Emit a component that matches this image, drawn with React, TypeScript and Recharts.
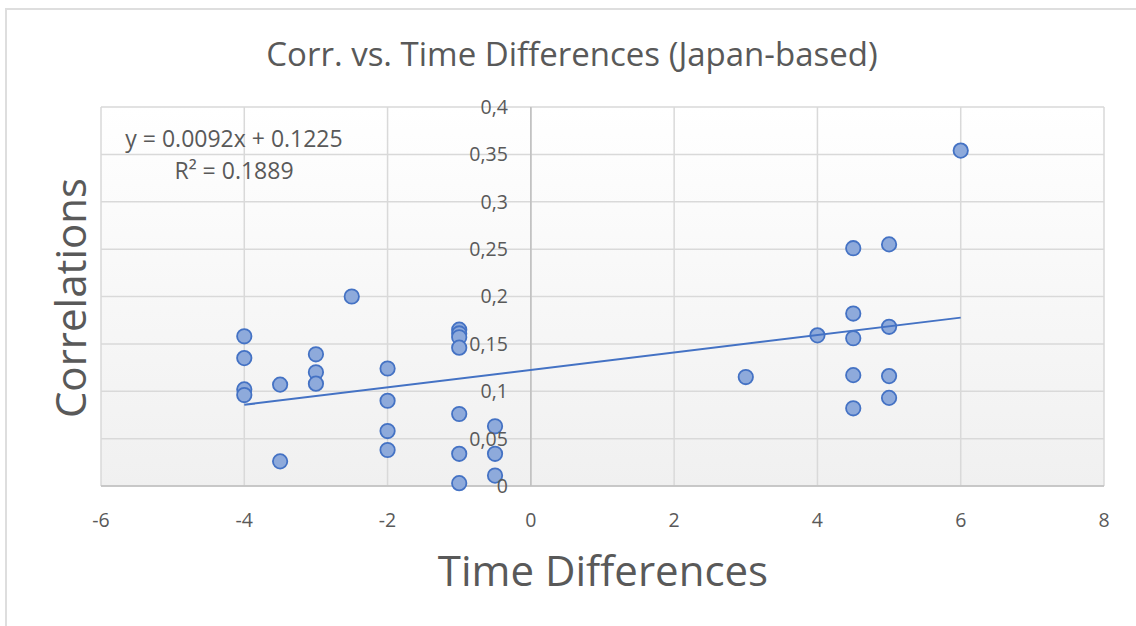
import {
  ScatterChart,
  Scatter,
  XAxis,
  YAxis,
  CartesianGrid,
  ReferenceLine,
  ReferenceDot,
} from 'recharts';

// time difference (hours) for each observation
const timeDiffs = [
  -4, -4, -4, -4,
  -3.5, -3.5,
  -3, -3, -3,
  -2.5,
  -2, -2, -2, -2,
  -1, -1, -1, -1, -1, -1, -1,
  -0.5, -0.5, -0.5,
  3,
  4,
  4.5, 4.5, 4.5, 4.5, 4.5,
  5, 5, 5, 5,
  6,
];

// correlation for each observation
const correlations = [
  0.158, 0.135, 0.102, 0.096,
  0.107, 0.026,
  0.139, 0.12, 0.108,
  0.2,
  0.124, 0.09, 0.058, 0.038,
  0.165, 0.161, 0.157, 0.146, 0.076, 0.034, 0.003,
  0.063, 0.034, 0.011,
  0.115,
  0.159,
  0.251, 0.182, 0.156, 0.117, 0.082,
  0.255, 0.168, 0.116, 0.093,
  0.354,
];

const xTicks = [-6, -4, -2, 0, 2, 4, 6, 8];
const yTicks = [0, 0.05, 0.1, 0.15, 0.2, 0.25, 0.3, 0.35, 0.4];

// linear trendline coefficients
const slope = 0.0092;
const intercept = 0.1225;
const rSquared = 0.1889;

const points = timeDiffs.map((x, i) => ({ x, y: correlations[i] }));
const xMin = Math.min(...timeDiffs);
const xMax = Math.max(...timeDiffs);
const trend = [
  { x: xMin, y: slope * xMin + intercept },
  { x: xMax, y: slope * xMax + intercept },
];

const FONT = '"Open Sans", sans-serif';
const TEXT = '#595959';

const fmtTick = (v: number) => String(v).replace('.', ',');

const Dot = (props: any) => (
  <circle
    cx={props.cx}
    cy={props.cy}
    r={7.2}
    fill="#8eaadb"
    stroke="#4472c4"
    strokeWidth={1.8}
  />
);

export default function App() {
  return (
    <div
      style={{
        position: 'absolute',
        left: 0,
        top: 0,
        width: 1136,
        height: 626,
        overflow: 'hidden',
        background: '#fff',
        fontFamily: FONT,
      }}
    >
      <div
        style={{
          position: 'absolute',
          left: 5,
          top: 8,
          width: 1200,
          height: 700,
          borderTop: '2px solid #dedede',
          borderLeft: '2px solid #dedede',
        }}
      />
      <div
        style={{
          position: 'absolute',
          left: 0,
          width: 1144,
          top: 31,
          textAlign: 'center',
          fontSize: 33,
          color: TEXT,
        }}
      >
        Corr. vs. Time Differences (Japan-based)
      </div>
      <div style={{ position: 'absolute', left: 0, top: 0 }}>
        <ScatterChart
          width={1136}
          height={626}
          margin={{ top: 107, right: 32, bottom: 100, left: 101 }}
        >
          <defs>
            <linearGradient id="plotBg" x1="0" y1="0" x2="0" y2="1">
              <stop offset="0%" stopColor="#ffffff" />
              <stop offset="100%" stopColor="#f0f0f0" />
            </linearGradient>
          </defs>
          <CartesianGrid
            stroke="#d9d9d9"
            strokeWidth={1.5}
            fill="url(#plotBg)"
            fillOpacity={1}
          />
          <XAxis
            type="number"
            dataKey="x"
            domain={[-6, 8]}
            ticks={xTicks}
            height={40}
            tickLine={false}
            tickSize={0}
            tickMargin={27}
            axisLine={{ stroke: '#bfbfbf', strokeWidth: 1.5 }}
            tick={{ fill: TEXT, fontSize: 19.5, fontFamily: FONT }}
            interval={0}
          />
          <YAxis
            type="number"
            dataKey="y"
            domain={[0, 0.4]}
            ticks={yTicks}
            hide
          />
          <ReferenceLine x={0} stroke="#bfbfbf" strokeWidth={1.5} />
          {yTicks.map((t) => (
            <ReferenceDot
              key={t}
              x={0}
              y={t}
              r={0}
              fill="none"
              stroke="none"
              label={{
                value: fmtTick(t),
                position: 'left',
                offset: 23,
                fill: TEXT,
                fontSize: 19.5,
                fontFamily: FONT,
              }}
            />
          ))}
          <Scatter
            data={points}
            shape={Dot}
            isAnimationActive={false}
          />
          <Scatter
            data={trend}
            line={{ stroke: '#4472c4', strokeWidth: 2 }}
            shape={() => null}
            isAnimationActive={false}
          />
        </ScatterChart>
      </div>
      <div
        style={{
          position: 'absolute',
          left: 69,
          top: 298,
          width: 0,
          height: 0,
        }}
      >
        <div
          style={{
            position: 'absolute',
            left: 0,
            top: 0,
            transform: 'translate(-50%, -50%) rotate(-90deg)',
            whiteSpace: 'nowrap',
            fontSize: 42,
            color: TEXT,
          }}
        >
          Correlations
        </div>
      </div>
      <div
        style={{
          position: 'absolute',
          left: 0,
          width: 1206,
          top: 541,
          textAlign: 'center',
          fontSize: 42,
          color: TEXT,
        }}
      >
        Time Differences
      </div>
      <div
        style={{
          position: 'absolute',
          left: 104,
          width: 260,
          top: 122,
          textAlign: 'center',
          fontSize: 23,
          lineHeight: '32px',
          color: TEXT,
        }}
      >
        <div>
          y = {slope}x + {intercept}
        </div>
        <div>
          R² = {rSquared}
        </div>
      </div>
    </div>
  );
}
